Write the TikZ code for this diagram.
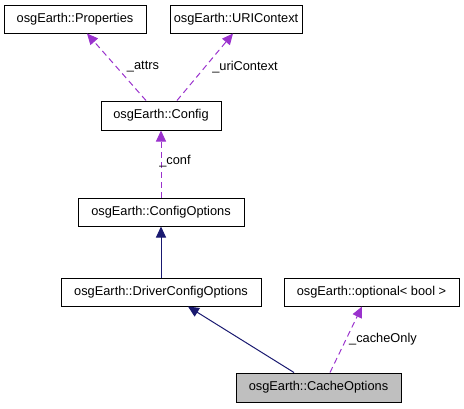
\documentclass[tikz,border=0pt]{standalone}
\usepackage{fontspec}
\setmainfont{Liberation Sans}
\usetikzlibrary{arrows.meta}
\definecolor{edgepurple}{HTML}{9A32CD}
\definecolor{edgenavy}{HTML}{191970}
\definecolor{hlgray}{HTML}{BFBFBF}
\tikzset{
  cls/.style={draw=black, line width=1pt, fill=white, inner sep=0pt, minimum height=28pt, font=\fontsize{12.8}{14}\selectfont},
  usage/.style={draw=edgepurple, line width=1pt, dash pattern=on 6pt off 4pt, -{Triangle[length=11pt,width=10pt]}},
  inherit/.style={draw=edgenavy, line width=1pt, -{Triangle[length=11pt,width=10pt]}},
  lbl/.style={font=\fontsize{12.8}{14}\selectfont, inner sep=0pt}
}
\begin{document}
\begin{tikzpicture}[x=1pt,y=-1pt]
\useasboundingbox (0,0) rectangle (464,408);
\node[cls, minimum width=142pt] (prop) at (75,19) {osgEarth::Properties};
\node[cls, minimum width=132pt] (uri) at (236,19) {osgEarth::URIContext};
\node[cls, minimum width=120pt, minimum height=29pt] (cfg) at (161,115.5) {osgEarth::Config};
\node[cls, minimum width=166pt] (cfgopt) at (161,212) {osgEarth::ConfigOptions};
\node[cls, minimum width=200pt] (drv) at (161,292) {osgEarth::DriverConfigOptions};
\node[cls, minimum width=175pt] (opt) at (371.5,292) {osgEarth::optional< bool >};
\node[cls, fill=hlgray, minimum width=165pt, minimum height=29pt] (cache) at (318.5,387.5) {osgEarth::CacheOptions};

\draw[usage] ([xshift=-15pt]cfg.north) -- ([xshift=12pt]prop.south);
\draw[usage] ([xshift=16pt]cfg.north) -- ([xshift=-3pt]uri.south);
\draw[usage] (cfgopt.north) -- (cfg.south);
\draw[inherit] (drv.north) -- (cfgopt.south);
\draw[inherit] ([xshift=-24.5pt]cache.north) -- ([xshift=27pt]drv.south);
\draw[usage] ([xshift=11.5pt]cache.north) -- ([xshift=-9.5pt]opt.south);

\node[lbl] (l1) at (143,67) {\_attrs};
\node[lbl] (l2) at (245,67) {\_uriContext};
\node[lbl] (l3) at (175,161) {\_conf};
\node[lbl] (l4) at (383,339) {\_cacheOnly};
\end{tikzpicture}
\end{document}
